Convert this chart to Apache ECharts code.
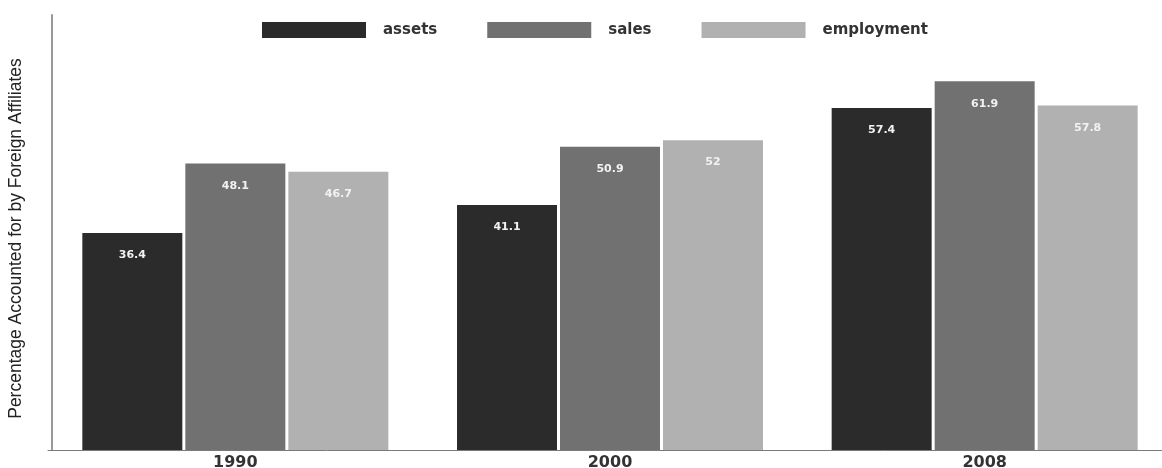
<!DOCTYPE html>
<html>
<head>
<meta charset="utf-8">
<script src="https://cdn.jsdelivr.net/npm/echarts@6/dist/echarts.min.js"></script>
<style>
html,body{margin:0;padding:0;background:#fff;}
#chart{width:1162px;height:468px;}
</style>
</head>
<body>
<div id="chart"></div>
<script>
const categories = ['1990', '2000', '2008'];
const assets = [36.4, 41.1, 57.4];
const sales = [48.1, 50.9, 61.9];
const employment = [46.7, 52, 57.8];
const seriesNames = ['assets', 'sales', 'employment'];
const yAxisTitle = 'Percentage Accounted for by Foreign Affiliates';

const colors = ['#2b2b2b', '#717171', '#b1b1b1'];
const chart = echarts.init(document.getElementById('chart'));
const labelCfg = {
  show: true,
  position: 'insideTop',
  distance: 17,
  color: '#f2f2f2',
  fontSize: 11,
  fontWeight: 'bold',
  fontFamily: 'DejaVu Sans'
};
function mk(name, data, color) {
  return {
    name: name,
    type: 'bar',
    data: data,
    barWidth: 100,
    barGap: '3%',
    itemStyle: { color: color },
    label: labelCfg
  };
}
chart.setOption({
  animation: false,
  legend: {
    left: 262,
    top: 22,
    padding: 0,
    itemWidth: 104,
    itemHeight: 16,
    itemGap: 50,
    icon: 'rect',
    data: seriesNames,
    textStyle: {
      fontFamily: 'DejaVu Sans',
      fontSize: 15,
      fontWeight: 'bold',
      color: '#333',
      padding: [0, 0, 0, 12]
    }
  },
  grid: { left: 48, top: 15, right: -10, bottom: 18, outerBoundsMode: 'none', containLabel: false },
  xAxis: {
    type: 'category',
    data: categories,
    axisLine: { lineStyle: { color: '#7a7a7a', width: 1 } },
    axisTick: { show: false },
    axisLabel: {
      margin: 5,
      fontFamily: 'DejaVu Sans',
      fontSize: 16,
      fontWeight: 'bold',
      color: '#333'
    }
  },
  yAxis: {
    type: 'value',
    min: 0,
    max: 73,
    offset: -4,
    name: yAxisTitle,
    nameLocation: 'middle',
    nameGap: 27,
    nameTextStyle: {
      fontFamily: 'Liberation Sans',
      fontSize: 17.5,
      color: '#222',
      padding: [0, 12, 0, 0]
    },
    axisLine: { show: true, lineStyle: { color: '#999', width: 2 } },
    axisTick: { show: false },
    axisLabel: { show: false },
    splitLine: { show: false }
  },
  series: [
    mk(seriesNames[0], assets, colors[0]),
    mk(seriesNames[1], sales, colors[1]),
    mk(seriesNames[2], employment, colors[2])
  ]
});
</script>
</body>
</html>
